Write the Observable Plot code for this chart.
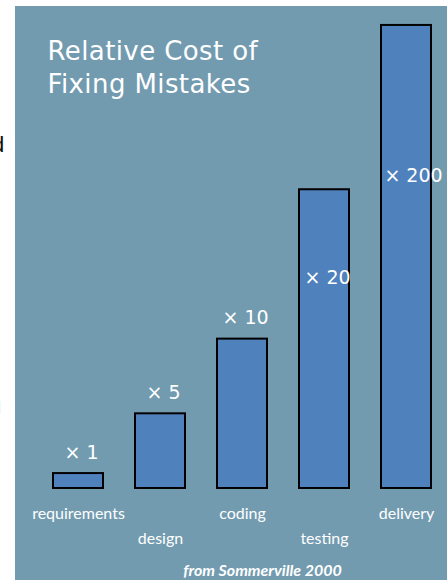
<!DOCTYPE html>
<html>
<head>
<meta charset="utf-8">
<script src="https://cdn.jsdelivr.net/npm/d3@7"></script>
<script src="https://cdn.jsdelivr.net/npm/@observablehq/plot@0.6"></script>
<style>
  html, body { margin: 0; padding: 0; background: #ffffff; }
  #wrap { position: relative; width: 447px; height: 580px; overflow: hidden; background: #ffffff; }
  #chart { position: absolute; left: 15px; top: 6px; }
  #edge { position: absolute; left: 0; top: 0; width: 15px; height: 580px; overflow: hidden; }
  #edge span { position: absolute; font-family: "Liberation Sans", sans-serif; color: #111; }
</style>
</head>
<body>
<div id="wrap">
  <div id="edge"><span style="left:-8px; top:132px; font-size:22px;">d</span><span style="left:-3px; top:398px; font-size:18px; color:#888;">l</span></div>
  <div id="chart"></div>
</div>
<script>
// Stages of the software process
const stages = ["requirements", "design", "coding", "testing", "delivery"];
// Relative cost multipliers as labelled
const multipliers = ["× 1", "× 5", "× 10", "× 20", "× 200"];
// Drawn bar heights, in units of the "requirements" bar (delivery bar is cut short on the slide)
const barHeights = [1, 5, 10, 20, 31];
const title = "Relative Cost of\nFixing Mistakes";
const source = "from Sommerville 2000";

const data = stages.map((s, i) => ({stage: s, mult: multipliers[i], h: barHeights[i], i}));

const chart = Plot.plot({
  width: 432,
  height: 574,
  marginLeft: 38,
  marginRight: 16,
  marginTop: 4,
  marginBottom: 92,
  style: {background: "#729bb0", overflow: "visible"},
  x: {domain: stages, axis: null, paddingInner: 0.395, paddingOuter: 0},
  y: {domain: [0, 32], axis: null},
  marks: [
    Plot.barY(data, {x: "stage", y: "h", fill: "#4f81bd", stroke: "#000000", strokeWidth: 2}),
    // multiplier labels above the short bars
    Plot.text(data.filter(d => d.i < 3), {
      x: "stage", y: "h", text: "mult", lineAnchor: "bottom", dy: -15, dx: 3,
      fill: "white", fontSize: 19, fontFamily: "DejaVu Sans"
    }),
    // multiplier labels inside the tall bars
    Plot.text(data.filter(d => d.i === 3), {
      x: "stage", y: "h", text: "mult", lineAnchor: "bottom", dy: 94, dx: 3,
      fill: "white", fontSize: 19, fontFamily: "DejaVu Sans"
    }),
    Plot.text(data.filter(d => d.i === 4), {
      x: "stage", y: "h", text: "mult", lineAnchor: "bottom", dy: 157, dx: 7,
      fill: "white", fontSize: 19, fontFamily: "DejaVu Sans"
    }),
    // staggered stage labels
    Plot.text(data.filter(d => d.i % 2 === 0), {
      x: "stage", y: () => 0, text: "stage", lineAnchor: "bottom", dy: 30,
      fill: "white", fontSize: 16, fontFamily: "Lato"
    }),
    Plot.text(data.filter(d => d.i % 2 === 1), {
      x: "stage", y: () => 0, text: "stage", lineAnchor: "bottom", dy: 55,
      fill: "white", fontSize: 16, fontFamily: "Lato"
    }),
    // title
    Plot.text([title], {
      frameAnchor: "top-left", textAnchor: "start", lineAnchor: "top", dx: -6, dy: 26,
      lineHeight: 1.27, fill: "white", fontSize: 26, fontFamily: "DejaVu Sans",
      style: "letter-spacing:0.4px"
    }),
    // source
    Plot.text([source], {
      frameAnchor: "bottom", lineAnchor: "bottom", dx: 20, dy: 87,
      fill: "white", fontSize: 16, fontFamily: "Lato", fontWeight: "bold", fontStyle: "italic"
    })
  ]
});
chart.querySelectorAll("text").forEach(t => {
  if (t.textContent.startsWith("Relative") || t.textContent.startsWith("Fixing")) t.setAttribute("letter-spacing", "0.4");
});
document.getElementById("chart").appendChild(chart);
</script>
</body>
</html>
